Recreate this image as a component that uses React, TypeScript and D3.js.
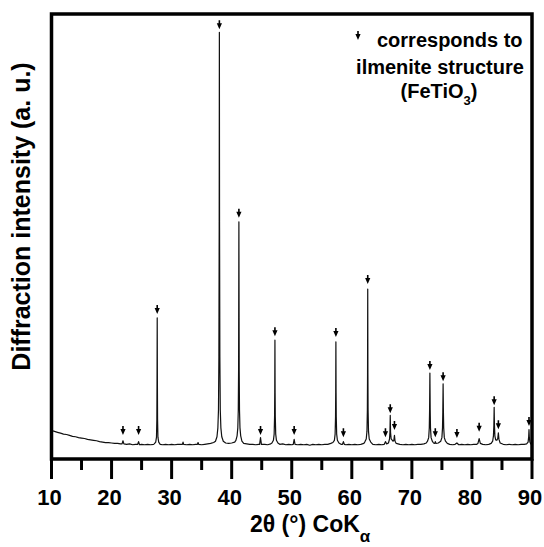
import { useEffect, useRef } from 'react';
import * as d3 from 'd3';

// XRD trace: [2theta (deg), intensity (a.u., 0-1000)]
const trace: [number, number][] = [
  [10.0, 64], [10.5, 62], [11, 60], [11.5, 58], [12, 56], [12.5, 55], [13, 53], [13.5, 51], [14, 50],
  [14.5, 48], [15, 47], [15.5, 46], [16, 44], [16.5, 43], [17, 42], [17.5, 41], [18, 39], [18.5, 38],
  [19, 37], [19.5, 37], [20, 36], [20.5, 35], [21, 35], [21.5, 34],
  [21.75, 34], [21.9, 41], [22.05, 34],
  [22.5, 33], [23, 34], [23.5, 32], [24, 33],
  [24.35, 33], [24.5, 39], [24.65, 32],
  [25, 33], [25.5, 32], [26, 33], [26.5, 32], [27.0, 33],
  [27.1, 34], [27.35, 38], [27.48, 49], [27.54, 89], [27.57, 174], [27.6, 317], [27.63, 174], [27.66, 89],
  [27.72, 49], [27.85, 38], [28.1, 33],
  [28.5, 32], [29, 33], [29.5, 32], [30, 33], [30.5, 32], [31, 33], [31.5, 33],
  [31.8, 33], [31.9, 38], [32.0, 33],
  [32.5, 32], [33, 33], [33.5, 32], [34, 33],
  [34.3, 33], [34.4, 37], [34.5, 33],
  [35, 32], [35.5, 33], [36, 34], [36.5, 35], [37, 37],
  [37.3, 40], [37.55, 50], [37.7, 70], [37.8, 110], [37.87, 230], [37.92, 520], [37.95, 959], [37.98, 520],
  [38.03, 230], [38.1, 110], [38.2, 70], [38.35, 50], [38.6, 40],
  [39, 36], [39.5, 35], [40, 36], [40.5, 38],
  [40.7, 42], [40.9, 52], [41.02, 70], [41.1, 110], [41.15, 200], [41.2, 533], [41.25, 200], [41.3, 110],
  [41.38, 70], [41.5, 52], [41.7, 40],
  [42, 35], [42.5, 34], [43, 33], [43.5, 33], [44, 32], [44.5, 33],
  [44.65, 33], [44.8, 48], [44.95, 33],
  [45.5, 33], [46, 32], [46.5, 34],
  [46.7, 36], [46.95, 42], [47.07, 56], [47.14, 95], [47.17, 150], [47.2, 267], [47.23, 150], [47.26, 95],
  [47.33, 56], [47.45, 42], [47.7, 36],
  [48, 33], [48.5, 34], [49, 32], [49.5, 33], [50, 32],
  [50.25, 33], [50.4, 44], [50.55, 33],
  [51, 32], [51.5, 33], [52, 32], [52.5, 33], [53, 31], [53.5, 33], [54, 32], [54.5, 33], [55, 32],
  [55.5, 33], [56, 33], [56.5, 35],
  [56.85, 37], [57.1, 42], [57.22, 56], [57.29, 95], [57.32, 150], [57.35, 263], [57.38, 150], [57.41, 95],
  [57.48, 56], [57.6, 42], [57.85, 36],
  [58.2, 33], [58.45, 33], [58.6, 39], [58.75, 33],
  [59, 32], [59.5, 33], [60, 32], [60.5, 33], [61, 32], [61.5, 33], [62, 35],
  [62.15, 38], [62.4, 45], [62.52, 62], [62.59, 110], [62.62, 190], [62.65, 382], [62.68, 190], [62.71, 110],
  [62.78, 62], [62.9, 45], [63.15, 38],
  [63.5, 33], [64, 32], [64.5, 33], [65, 32], [65.4, 33],
  [65.6, 39], [65.8, 34],
  [66.1, 36], [66.28, 45], [66.35, 60], [66.4, 98], [66.45, 60], [66.55, 45],
  [66.85, 40], [67.0, 42], [67.1, 53], [67.2, 40], [67.4, 35],
  [68, 33], [68.5, 32], [69, 33], [69.5, 32], [70, 33], [70.5, 32], [71, 33], [71.5, 33], [72, 34], [72.4, 36],
  [72.6, 40], [72.8, 48], [72.9, 70], [72.95, 110], [73.0, 193], [73.05, 110], [73.1, 70], [73.2, 48],
  [73.4, 40], [73.6, 36],
  [73.8, 35], [73.9, 39], [74.0, 35], [74.4, 36],
  [74.8, 40], [75.0, 48], [75.1, 70], [75.15, 105], [75.2, 169], [75.25, 105], [75.3, 70], [75.4, 48],
  [75.6, 40], [75.9, 35],
  [76.3, 33], [76.8, 32], [77.2, 33], [77.5, 36], [77.8, 32],
  [78.3, 33], [78.8, 32], [79.3, 33], [79.8, 32], [80.3, 33], [80.8, 33],
  [81.0, 35], [81.2, 46], [81.4, 35],
  [81.8, 33], [82.3, 32], [82.8, 33], [83.2, 35],
  [83.45, 40], [83.58, 52], [83.65, 75], [83.7, 116], [83.75, 75], [83.82, 52], [83.95, 43], [84.15, 42],
  [84.3, 46], [84.4, 59], [84.5, 44], [84.7, 36],
  [85.2, 33], [85.7, 32], [86.2, 33], [86.7, 32], [87.2, 33], [87.7, 32], [88.2, 33], [88.7, 33], [89.1, 34],
  [89.35, 38], [89.45, 50], [89.5, 66], [89.55, 50], [89.65, 38], [89.8, 34], [90, 33],
];

// ilmenite reflections: arrow position and level of the arrow tip
const markerPos = [21.9, 24.5, 27.6, 37.95, 41.2, 44.8, 47.2, 50.4, 57.35, 58.6, 62.65, 65.6, 66.4, 67.1,
  73.0, 73.9, 75.2, 77.5, 81.2, 83.7, 84.4, 89.5];
const markerLevel = [54, 54, 326, 966, 542, 54, 276, 54, 274, 49, 393, 49, 103, 65,
  200, 49, 175, 47, 61, 121, 67, 74];

const xMajorTicks = [10, 20, 30, 40, 50, 60, 70, 80, 90];
const xMinorTicks = [15, 25, 35, 45, 55, 65, 75, 85];
const legendText = ['corresponds to', 'ilmenite structure'];

const FONT = '"Liberation Sans", Arial, Helvetica, sans-serif';

const W = 544;
const H = 547;

const App = () => {
  const ref = useRef<SVGSVGElement>(null);

  useEffect(() => {
    if (!ref.current) return;
    const svg = d3.select(ref.current);
    svg.selectAll('*').remove();

    const left = 51.5, right = 532, top = 14, bottom = 459;

    const x = d3.scaleLinear().domain([10, 90]).range([left, right]);
    const y = d3.scaleLinear().domain([0, 1000]).range([bottom, top]);

    svg.append('rect')
      .attr('width', W).attr('height', H).attr('fill', 'white');

    // pattern
    const line = d3.line<[number, number]>()
      .x(d => x(d[0]))
      .y(d => y(d[1]));

    svg.append('path')
      .datum(trace)
      .attr('d', line)
      .attr('fill', 'none')
      .attr('stroke', '#111')
      .attr('stroke-width', 1.2)
      .attr('stroke-linejoin', 'round');

    // arrow markers
    const arrow = (cx: number, cy: number) =>
      `M${cx - 0.8},${cy - 9}h1.6v3.2h-1.6z M${cx - 2.6},${cy - 6}L${cx + 2.6},${cy - 6}L${cx},${cy}z`;

    svg.selectAll('.marker')
      .data(markerPos)
      .enter()
      .append('path')
      .attr('class', 'marker')
      .attr('d', (d, i) => arrow(x(d), y(markerLevel[i])))
      .attr('fill', '#000');

    // frame
    svg.append('rect')
      .attr('x', left).attr('y', top)
      .attr('width', right - left).attr('height', bottom - top)
      .attr('fill', 'none')
      .attr('stroke', '#000')
      .attr('stroke-width', 3.5);

    // x ticks
    svg.selectAll('.major')
      .data(xMajorTicks)
      .enter()
      .append('line')
      .attr('x1', d => x(d)).attr('x2', d => x(d))
      .attr('y1', bottom).attr('y2', bottom + 20)
      .attr('stroke', '#000').attr('stroke-width', 3);

    svg.selectAll('.minor')
      .data(xMinorTicks)
      .enter()
      .append('line')
      .attr('x1', d => x(d)).attr('x2', d => x(d))
      .attr('y1', bottom).attr('y2', bottom + 11)
      .attr('stroke', '#000').attr('stroke-width', 3);

    svg.selectAll('.ticklabel')
      .data(xMajorTicks)
      .enter()
      .append('text')
      .attr('x', d => x(d) - 2)
      .attr('y', 505)
      .attr('text-anchor', 'middle')
      .style('font-family', FONT)
      .style('font-weight', 'bold')
      .style('font-size', '22px')
      .text(d => d);

    // x axis title
    const xt = svg.append('text')
      .attr('x', 250)
      .attr('y', 532)
      .style('font-family', FONT)
      .style('font-weight', 'bold')
      .style('font-size', '23px');
    xt.append('tspan').text('2θ (°) CoK');
    xt.append('tspan').attr('dy', 10).style('font-size', '17px').text('α');

    // y axis title
    svg.append('text')
      .attr('transform', 'rotate(-90)')
      .attr('x', -216.5)
      .attr('y', 30)
      .attr('text-anchor', 'middle')
      .style('font-family', FONT)
      .style('font-weight', 'bold')
      .style('font-size', '25px')
      .text('Diffraction intensity (a. u.)');

    // legend
    const lg = svg.append('g')
      .style('font-family', FONT)
      .style('font-weight', 'bold')
      .style('font-size', '20px');

    lg.append('path').attr('d', arrow(358, 40)).attr('fill', '#000');
    lg.append('text').attr('x', 377).attr('y', 47).text(legendText[0]);
    lg.append('text').attr('x', 440).attr('y', 74).attr('text-anchor', 'middle').text(legendText[1]);
    const l3 = lg.append('text').attr('x', 439).attr('y', 98).attr('text-anchor', 'middle');
    l3.append('tspan').text('(FeTiO');
    l3.append('tspan').attr('dy', 7).style('font-size', '13px').text('3');
    l3.append('tspan').attr('dy', -7).text(')');
  }, []);

  return (
    <svg
      ref={ref}
      width={W}
      height={H}
      style={{ position: 'absolute', left: 0, top: 0, background: 'white' }}
    />
  );
};

export default App;
